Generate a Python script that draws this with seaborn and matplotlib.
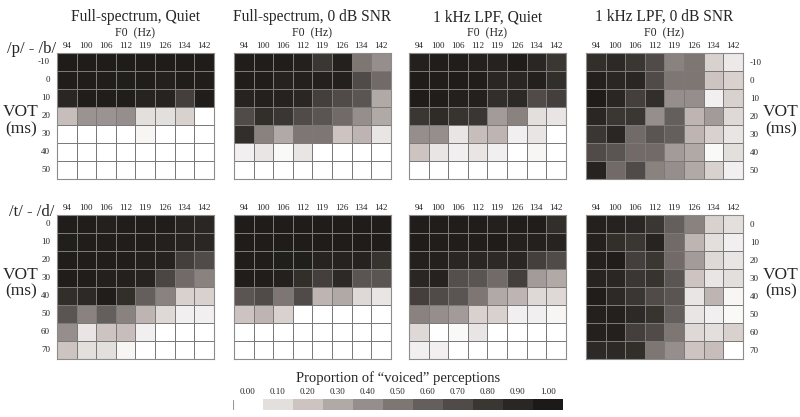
import matplotlib
matplotlib.use("Agg")
import matplotlib.pyplot as plt
from matplotlib.colors import LinearSegmentedColormap
import seaborn as sns
import pandas as pd
import numpy as np

# axis categories
f0 = [94, 100, 106, 112, 119, 126, 134, 142]
vot_pb = [-10, 0, 10, 20, 30, 40, 50]
vot_td = [0, 10, 20, 30, 40, 50, 60, 70]

conditions = ["Full-spectrum, Quiet", "Full-spectrum, 0 dB SNR",
              "1 kHz LPF, Quiet", "1 kHz LPF, 0 dB SNR"]

# proportion of "voiced" responses, /p/-/b/ (rows = VOT, cols = F0)
pb_full_quiet = [
    [.98, .98, .98, .98, .98, .98, .98, .98],
    [.97, .97, .97, .96, .97, .95, .97, .97],
    [.90, .97, .97, .97, .92, .92, .75, .97],
    [.22, .38, .38, .40, .10, .10, .15, .00],
    [.00, .00, .00, .00, .03, .00, .00, .00],
    [.00, .00, .00, .00, .00, .00, .00, .00],
    [.00, .00, .00, .00, .00, .00, .00, .00],
]
pb_full_noise = [
    [.97, .97, .97, .95, .80, .95, .50, .40],
    [.97, .97, .93, .95, .95, .95, .70, .55],
    [.92, .95, .93, .90, .75, .70, .65, .30],
    [.70, .85, .80, .70, .65, .55, .40, .30],
    [.85, .45, .30, .50, .50, .20, .25, .08],
    [.05, .08, .02, .08, .00, .00, .00, .00],
    [.00, .00, .00, .00, .00, .00, .00, .00],
]
pb_lpf_quiet = [
    [.95, .97, .97, .95, .93, .98, .90, .80],
    [.98, .97, .98, .97, .90, .90, .95, .85],
    [.98, .97, .95, .95, .85, .88, .70, .75],
    [.80, .87, .82, .80, .35, .45, .10, .08],
    [.40, .40, .08, .22, .25, .05, .08, .00],
    [.20, .08, .05, .08, .05, .00, .03, .00],
    [.00, .00, .00, .00, .00, .00, .00, .00],
]
pb_lpf_noise = [
    [.85, .88, .80, .70, .45, .50, .15, .07],
    [.95, .90, .90, .70, .50, .50, .20, .15],
    [.98, .90, .75, .85, .40, .40, .05, .15],
    [.90, .80, .80, .40, .60, .25, .35, .12],
    [.80, .90, .55, .65, .60, .25, .15, .08],
    [.70, .65, .55, .55, .35, .30, .02, .10],
    [.92, .55, .70, .45, .40, .30, .15, .05],
]

# proportion of "voiced" responses, /t/-/d/
td_full_quiet = [
    [.97, .97, .95, .97, .97, .97, .92, .90],
    [.96, .97, .97, .97, .97, .95, .92, .90],
    [.97, .97, .97, .97, .95, .93, .75, .70],
    [.97, .97, .95, .95, .92, .72, .55, .45],
    [.85, .88, .97, .85, .60, .45, .15, .15],
    [.65, .45, .60, .45, .25, .12, .05, .05],
    [.40, .08, .20, .22, .05, .00, .00, .00],
    [.20, .10, .10, .03, .00, .00, .00, .00],
]
td_full_noise = [
    [.98, .98, .98, .98, .98, .98, .98, .98],
    [.98, .98, .98, .98, .98, .98, .98, .98],
    [.97, .97, .96, .96, .92, .93, .93, .82],
    [.97, .97, .95, .85, .75, .88, .65, .65],
    [.65, .70, .50, .70, .25, .30, .12, .08],
    [.20, .25, .15, .00, .00, .00, .00, .00],
    [.00, .00, .00, .00, .00, .00, .00, .00],
    [.00, .00, .00, .00, .00, .00, .00, .00],
]
td_lpf_quiet = [
    [.97, .97, .97, .97, .95, .97, .97, .85],
    [.98, .97, .97, .97, .98, .95, .95, .92],
    [.95, .95, .90, .90, .88, .90, .75, .70],
    [.90, .93, .68, .65, .55, .75, .35, .30],
    [.75, .70, .65, .50, .30, .25, .12, .12],
    [.45, .40, .35, .15, .15, .05, .05, .03],
    [.12, .00, .02, .08, .00, .00, .00, .00],
    [.05, .05, .00, .00, .00, .00, .00, .00],
]
td_lpf_noise = [
    [.95, .93, .90, .80, .60, .45, .15, .10],
    [.95, .85, .80, .92, .55, .25, .10, .05],
    [.95, .97, .75, .80, .55, .35, .12, .08],
    [.92, .90, .80, .82, .65, .20, .08, .10],
    [.97, .88, .80, .70, .65, .08, .25, .03],
    [.95, .95, .88, .82, .60, .08, .05, .02],
    [.95, .95, .75, .70, .50, .12, .10, .15],
    [.88, .88, .85, .50, .40, .20, .22, .00],
]

levels = [0.00, 0.10, 0.20, 0.30, 0.40, 0.50, 0.60, 0.70, 0.80, 0.90, 1.00]

# warm grey ramp sampled from the legend
cmap = LinearSegmentedColormap.from_list("warmgrey", [
    (0.00, "#ffffff"), (0.10, "#e2dedc"), (0.20, "#cdc3c0"), (0.30, "#afa8a5"),
    (0.40, "#968e8c"), (0.50, "#7d7673"), (0.60, "#645e5c"), (0.70, "#504a48"),
    (0.80, "#3a3632"), (0.90, "#2a2623"), (1.00, "#1c1a18")])

sns.set_style("white")
plt.rcParams["font.family"] = ["Liberation Serif", "DejaVu Serif"]

fig = plt.figure(figsize=(8, 4.17), dpi=100)

lefts = [0.07125, 0.2925, 0.51125, 0.7325]
width = 0.196
rows = [
    (vot_pb, [pb_full_quiet, pb_full_noise, pb_lpf_quiet, pb_lpf_noise], 0.5707, 0.302),
    (vot_td, [td_full_quiet, td_full_noise, td_lpf_quiet, td_lpf_noise], 0.139, 0.345),
]

for r, (vot, mats, bottom, height) in enumerate(rows):
    for c, mat in enumerate(mats):
        ax = fig.add_axes([lefts[c], bottom, width, height])
        df = pd.DataFrame(mat, index=vot, columns=f0)
        sns.heatmap(df, ax=ax, cmap=cmap, vmin=0, vmax=1, cbar=False,
                    linewidths=0.45, linecolor="#7a7a7a")
        for s in ax.spines.values():
            s.set_visible(True)
            s.set_color("#8c8c8c")
            s.set_linewidth(0.8)
        ax.xaxis.tick_top()
        ax.set_xlabel("")
        ax.set_ylabel("")
        ax.tick_params(axis="x", length=0, pad=2, labelsize=6.5)
        ax.set_xticklabels(f0, rotation=0)
        if c == 0:
            ax.tick_params(axis="y", length=0, pad=5, labelsize=6.5)
            ax.set_yticklabels(vot, rotation=0)
        elif c == 3:
            ax.yaxis.tick_right()
            ax.tick_params(axis="y", length=0, pad=5, labelsize=6.5)
            ax.set_yticklabels(vot, rotation=0)
        else:
            ax.set_yticks([])
        if r == 0:
            fig.text(lefts[c] + width / 2, 0.959, conditions[c], ha="center",
                     va="center", fontsize=11.2)
            fig.text(lefts[c] + width / 2, 0.921, "F0  (Hz)", ha="center",
                     va="center", fontsize=8.5)

# row labels
fig.text(0.039, 0.882, "/p/ - /b/", ha="center", va="center", fontsize=12)
fig.text(0.039, 0.492, "/t/ - /d/", ha="center", va="center", fontsize=12)
for y in (0.711, 0.321):
    fig.text(0.026, y, "VOT\n(ms)", ha="center", va="center", fontsize=12.5,
             linespacing=1.1)
    fig.text(0.976, y, "VOT\n(ms)", ha="center", va="center", fontsize=12.5,
             linespacing=1.1)

# legend strip
cax = fig.add_axes([0.291, 0.017, 0.4125, 0.027])
sns.heatmap(pd.DataFrame([levels]), ax=cax, cmap=cmap, vmin=0, vmax=1,
            cbar=False, xticklabels=False, yticklabels=False)
cax.plot([0.02, 0.02], [0.1, 0.9], color="#999999", lw=0.8)
for i, lv in enumerate(levels):
    cax.text(i + 0.5, -0.25, f"{lv:.2f}", ha="center", va="bottom", fontsize=6.5)
fig.text(0.497, 0.094, "Proportion of \u201cvoiced\u201d perceptions",
         ha="center", va="center", fontsize=10.5)

fig.savefig("out.png", dpi=100)
